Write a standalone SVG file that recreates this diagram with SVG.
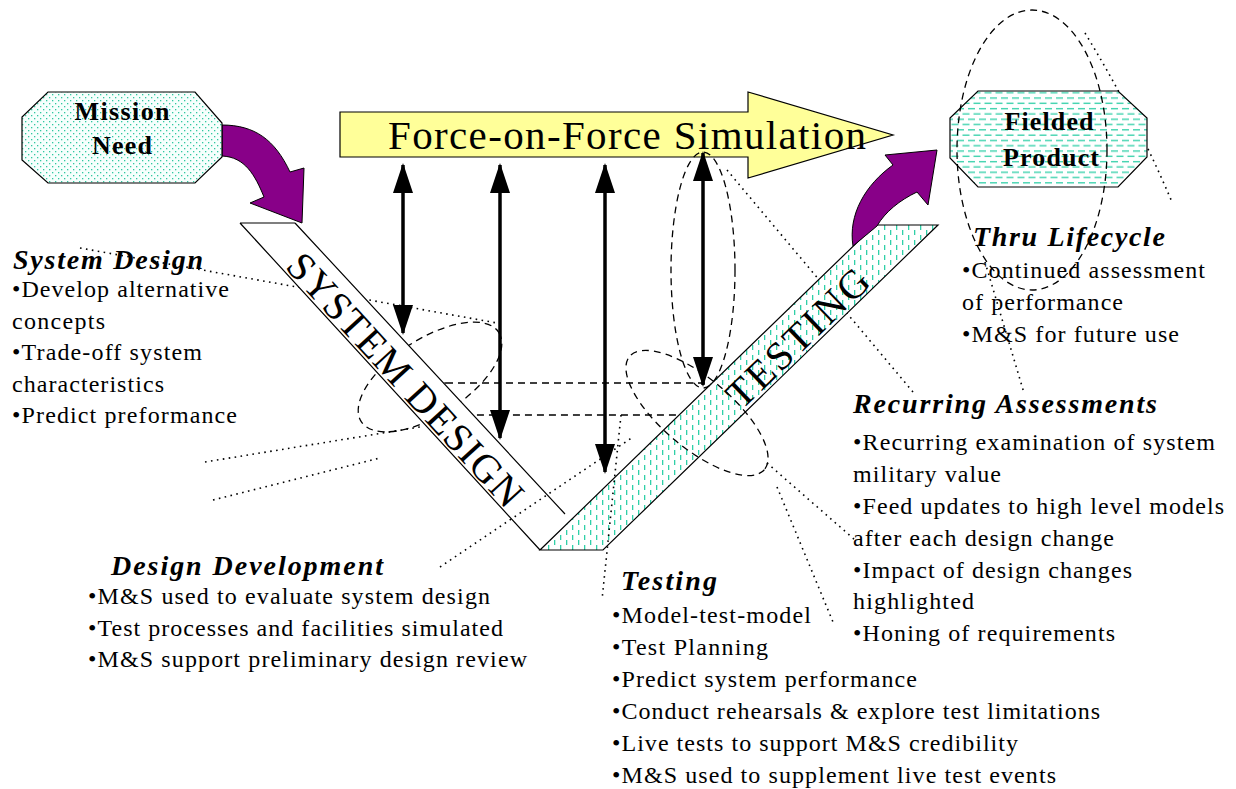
<svg xmlns="http://www.w3.org/2000/svg" width="1236" height="789" viewBox="0 0 1236 789">
<defs>
<style>
.body{font-size:24px;fill:#000}
.ttl{font-size:28px;font-weight:bold;font-style:italic;fill:#000}
.node{font-size:26px;font-weight:bold;fill:#000;text-anchor:middle}
.strip{font-size:40px;fill:#000;text-anchor:middle}
.dot{fill:none;stroke:#000;stroke-width:1.6;stroke-dasharray:1.6 4.4}
.dash{fill:none;stroke:#000;stroke-width:1.3;stroke-dasharray:7 5}
.edge{stroke:#000;stroke-width:1.2;fill:none}
.dbl{stroke:#000;stroke-width:3.5;fill:none;marker-start:url(#ah);marker-end:url(#ah)}
.purple{fill:#880088;stroke:#000;stroke-width:1}
</style>
<marker id="ah" viewBox="0 0 30 20" refX="28" refY="10" markerWidth="30" markerHeight="20" markerUnits="userSpaceOnUse" orient="auto-start-reverse">
<path d="M0,0 L30,10 L0,20 Z" fill="#000"/>
</marker>
<pattern id="pdots" width="6" height="6" patternUnits="userSpaceOnUse">
<rect width="6" height="6" fill="#f6fffd"/>
<rect x="1" y="1" width="1.3" height="1.3" fill="#30c8a0"/>
<rect x="4" y="4" width="1.3" height="1.3" fill="#30c8a0"/>
</pattern>
<pattern id="phdash" width="11" height="10.6" patternUnits="userSpaceOnUse">
<rect width="11" height="10.6" fill="#ffffff"/>
<rect x="0" y="2" width="7" height="1.3" fill="#30d0a8"/>
<rect x="5.5" y="7.3" width="5.5" height="1.3" fill="#30d0a8"/>
<rect x="0" y="7.3" width="1.5" height="1.3" fill="#30d0a8"/>
</pattern>
<pattern id="pvdash" width="12" height="10" patternUnits="userSpaceOnUse">
<rect width="12" height="10" fill="#ffffff"/>
<rect x="2" y="0" width="1.3" height="5" fill="#30d0a8"/>
<rect x="8" y="5" width="1.3" height="5" fill="#30d0a8"/>
</pattern>
</defs>
<rect width="1236" height="789" fill="#fff"/>
<g font-family="Liberation Serif, Times New Roman, serif">

<g id="force-on-force">
<polygon points="340,112 748,112 748,92 893,135 748,178 748,157 340,157" fill="#ffff99" stroke="#000" stroke-width="1.2"/>
<text x="388" y="149" font-size="41" textLength="478">Force-on-Force Simulation</text>
</g>

<g id="connectors-under">
<path class="dot" d="M80,248 L497,323"/>
<path class="dot" d="M727,170 L913,392"/>
<rect class="dash" x="430" y="383" width="290" height="32" rx="16"/>
<ellipse class="dash" cx="430" cy="377" rx="82" ry="38" transform="rotate(-33 430 377)"/>
</g>

<g id="system-design">
<polygon points="240,223 295,223 575,523 540,550" fill="#fff"/>
<path class="edge" d="M240,223 L295,223 M240,223 L540,550 M295,223 L565,514"/>
<text class="strip" transform="translate(405,380) rotate(47.5)" x="0" y="13" textLength="329">SYSTEM DESIGN</text>
</g>

<g id="testing">
<polygon points="540,550 603,550 938,225 875,225" fill="url(#pvdash)" stroke="#000" stroke-width="1.2"/>
<text class="strip" transform="translate(798,338) rotate(-44)" x="0" y="13" textLength="182">TESTING</text>
</g>

<g id="connectors">
<ellipse class="dash" cx="697" cy="413" rx="88" ry="35" transform="rotate(40 697 413)"/>
<ellipse class="dash" cx="703" cy="270" rx="32" ry="118"/>
<path class="dot" d="M205,462 L420,427"/>
<path class="dot" d="M213,500 L380,458"/>
<path class="dot" d="M440,567 L633,437"/>
<path class="dot" d="M621,415 L602,600"/>
<path class="dot" d="M767,463 L855,540"/>
<path class="dot" d="M777,487 L833,622"/>
<path class="dot" d="M1085,33 Q1135,115 1172,202"/>
<path class="dot" d="M985,262 L1024,393"/>
<line class="dbl" x1="403" y1="165" x2="403" y2="333"/>
<line class="dbl" x1="500" y1="165" x2="500" y2="438"/>
<line class="dbl" x1="605" y1="165" x2="605" y2="472"/>
<line class="dbl" x1="703" y1="153" x2="703" y2="385"/>
<path class="purple" d="M222,125 C255,125 275,140 290,172 L304,168 L302,223 L250,203 L264,197 C255,175 245,157 222,156 Z"/>
<path class="purple" d="M853,246 C848,215 865,185 893,165 L885,155 L937,150 L928,205 L917,192 C900,200 885,212 877,226 Z"/>
</g>

<g id="mission-need">
<polygon points="48,92 195,92 222,123 222,157 195,183 48,183 22,160 22,117" fill="url(#pdots)" stroke="#000" stroke-width="1.2"/>
<text class="node" x="122" y="120" textLength="95">Mission</text>
<text class="node" x="122" y="154" textLength="60">Need</text>
</g>

<g id="fielded-product">
<polygon points="978,91 1118,91 1147,118 1147,157 1118,187 978,187 950,158 950,118" fill="url(#phdash)" stroke="#000" stroke-width="1.2"/>
<text class="node" x="1049" y="130" textLength="89">Fielded</text>
<text class="node" x="1051" y="166" textLength="96">Product</text>
<ellipse class="dash" cx="1032" cy="150" rx="75" ry="140"/>
</g>

<g id="label-system-design">
<text class="ttl" x="13" y="269" textLength="190">System Design</text>
<text class="body" x="12" y="297" textLength="217">•Develop alternative</text>
<text class="body" x="12" y="329" textLength="93">concepts</text>
<text class="body" x="12" y="360" textLength="190">•Trade-off system</text>
<text class="body" x="12" y="392" textLength="152">characteristics</text>
<text class="body" x="12" y="423" textLength="225">•Predict preformance</text>
</g>

<g id="label-thru-lifecycle">
<text class="ttl" x="973" y="246" textLength="192">Thru Lifecycle</text>
<text class="body" x="962" y="278" textLength="243">•Continued assessment</text>
<text class="body" x="962" y="310" textLength="161">of performance</text>
<text class="body" x="962" y="342" textLength="217">•M&amp;S for future use</text>
</g>

<g id="label-recurring">
<text class="ttl" x="853" y="413" textLength="304">Recurring Assessments</text>
<text class="body" x="853" y="450" textLength="362">•Recurring examination of system</text>
<text class="body" x="853" y="482" textLength="148">military value</text>
<text class="body" x="853" y="514" textLength="371">•Feed updates to high level models</text>
<text class="body" x="853" y="546" textLength="261">after each design change</text>
<text class="body" x="853" y="578" textLength="279">•Impact of design changes</text>
<text class="body" x="853" y="609" textLength="121">highlighted</text>
<text class="body" x="853" y="641" textLength="262">•Honing of requirements</text>
</g>

<g id="label-design-development">
<text class="ttl" x="111" y="575" textLength="272">Design Development</text>
<text class="body" x="88" y="604" textLength="402">•M&amp;S used to evaluate system design</text>
<text class="body" x="88" y="636" textLength="415">•Test processes and facilities simulated</text>
<text class="body" x="88" y="667" textLength="439">•M&amp;S support preliminary design review</text>
</g>

<g id="label-testing">
<text class="ttl" x="621" y="590" textLength="96">Testing</text>
<text class="body" x="612" y="623" textLength="199">•Model-test-model</text>
<text class="body" x="612" y="655" textLength="156">•Test Planning</text>
<text class="body" x="612" y="687" textLength="305">•Predict system performance</text>
<text class="body" x="612" y="719" textLength="488">•Conduct rehearsals &amp; explore test limitations</text>
<text class="body" x="612" y="751" textLength="406">•Live tests to support M&amp;S credibility</text>
<text class="body" x="612" y="783" textLength="444">•M&amp;S used to supplement live test events</text>
</g>
</g>
</svg>
